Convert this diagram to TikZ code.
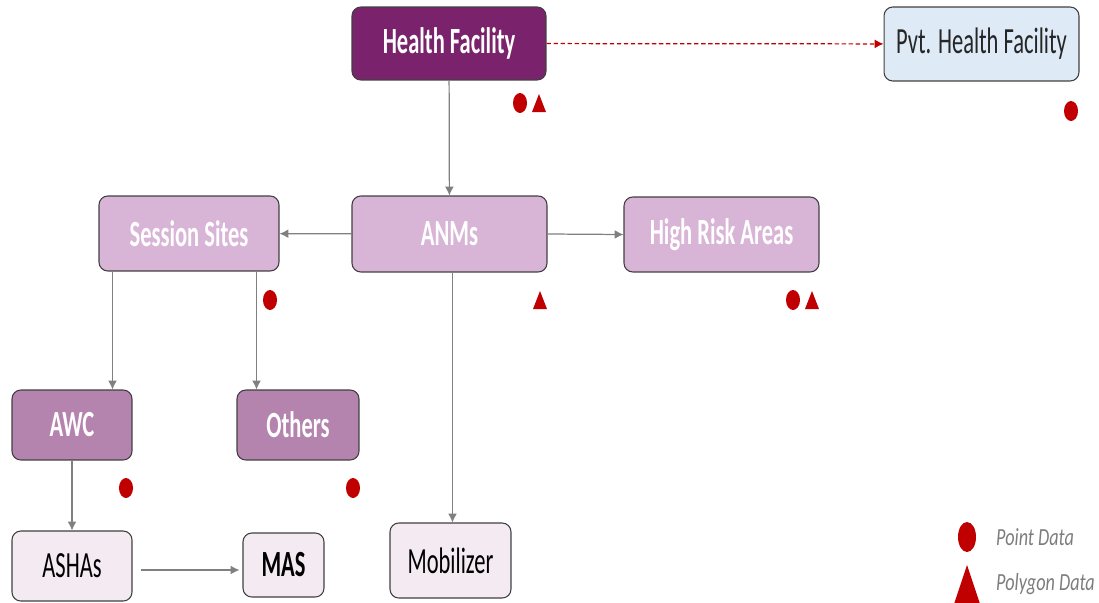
\documentclass[tikz,border=0pt]{standalone}
\usepackage{fontspec}
\setmainfont{Carlito}[FakeStretch=0.61]
\newfontfamily\legendfont{Carlito}[FakeStretch=0.74]
\usepackage{tikz}
\usetikzlibrary{arrows.meta, positioning}
\definecolor{hfpurple}{RGB}{122,34,108}
\definecolor{pvtblue}{RGB}{222,235,247}
\definecolor{lightmauve}{RGB}{216,181,214}
\definecolor{midmauve}{RGB}{180,131,174}
\definecolor{palemauve}{RGB}{243,234,242}
\definecolor{markred}{RGB}{192,0,0}
\definecolor{linegrey}{RGB}{128,128,128}
\definecolor{legendgrey}{RGB}{125,125,125}

\newcommand{\dotmark}[2]{\fill[markred] (#1,#2) ellipse [x radius=7, y radius=10];}
\newcommand{\trimark}[2]{\fill[markred] ({#1-7},{#2+9}) -- ({#1+7},{#2+9}) -- (#1,{#2-9}) -- cycle;}

\begin{document}
\begin{tikzpicture}[x=0.02cm, y=-0.02cm,
    box/.style={rectangle, rounded corners=5pt, draw=black!75, line width=0.6pt, align=center, inner sep=2pt, font=\fontsize{21}{23}\selectfont},
    light/.style={box, text=white, font=\fontsize{21}{23}\selectfont\bfseries},
    arrow/.style={-{Latex[length=5pt,width=5pt]}, draw=linegrey, line width=0.7pt},
    dasharrow/.style={-{Latex[length=5pt,width=5pt]}, draw=markred, dash pattern=on 2.5pt off 1.5pt, line width=0.7pt}
]
\path[use as bounding box] (0,0) rectangle (1099,602);

\node[light, fill=hfpurple, minimum width=3.88cm, minimum height=1.46cm] (hf) at (449,43.5) {Health Facility};
\node[box, fill=pvtblue, text=black!85, minimum width=3.9cm, minimum height=1.48cm] (pvt) at (981.5,44) {Pvt. Health Facility};
\node[light, fill=lightmauve, minimum width=3.6cm, minimum height=1.5cm] (ss) at (189,233.5) {Session Sites};
\node[light, fill=lightmauve, minimum width=3.9cm, minimum height=1.52cm] (anm) at (449.5,234) {ANMs};
\node[light, fill=lightmauve, minimum width=3.9cm, minimum height=1.5cm] (hra) at (721.5,234.5) {High Risk Areas};
\node[light, fill=midmauve, minimum width=2.4cm, minimum height=1.4cm] (awc) at (72,425) {AWC};
\node[light, fill=midmauve, minimum width=2.44cm, minimum height=1.4cm] (oth) at (298,425) {Others};
\node[box, fill=palemauve, text=black, minimum width=2.4cm, minimum height=1.4cm] (asha) at (72,566) {ASHAs};
\node[box, fill=palemauve, text=black, font=\fontsize{21}{23}\selectfont\bfseries, minimum width=1.62cm, minimum height=1.28cm] (mas) at (283.5,565) {MAS};
\node[box, fill=palemauve, text=black, minimum width=2.42cm, minimum height=1.5cm] (mob) at (450.5,560.5) {Mobilizer};

\draw[dasharrow] (hf) -- (pvt);
\draw[arrow] (hf) -- (anm);
\draw[arrow] (anm) -- (ss);
\draw[arrow] (anm.east) -- (hra.west);
\draw[arrow] ([xshift=0.28cm]ss.south west) -- ([xshift=0.28cm]ss.south west |- awc.north);
\draw[arrow] ([xshift=-0.46cm]ss.south east) -- ([xshift=-0.46cm]ss.south east |- oth.north);
\draw[arrow] ([xshift=0.06cm]anm.south) -- ([xshift=0.06cm]anm.south |- mob.north);
\draw[arrow] (awc) -- (asha);
\draw[arrow, shorten <=0.16cm, shorten >=0.06cm] ([yshift=-0.08cm]asha.east) -- ([yshift=-0.08cm]asha.east -| mas.west);

% data markers
\dotmark{520}{103} \trimark{539}{103}
\dotmark{1071}{111}
\dotmark{270}{300}
\trimark{540}{300}
\dotmark{793}{300} \trimark{812}{300}
\dotmark{126}{488}
\dotmark{353}{488}

% legend
\fill[markred] (967,537) ellipse [x radius=9, y radius=15];
\node[anchor=west, text=legendgrey, font=\legendfont\fontsize{14}{16}\selectfont\itshape] (pointlbl) at (990,537) {Point Data};
\fill[markred] (967,565) -- (980,604) -- (954,604) -- cycle;
\node[anchor=west, text=legendgrey, font=\legendfont\fontsize{14}{16}\selectfont\itshape] (polylbl) at (990,584) {Polygon Data};
\end{tikzpicture}
\end{document}
